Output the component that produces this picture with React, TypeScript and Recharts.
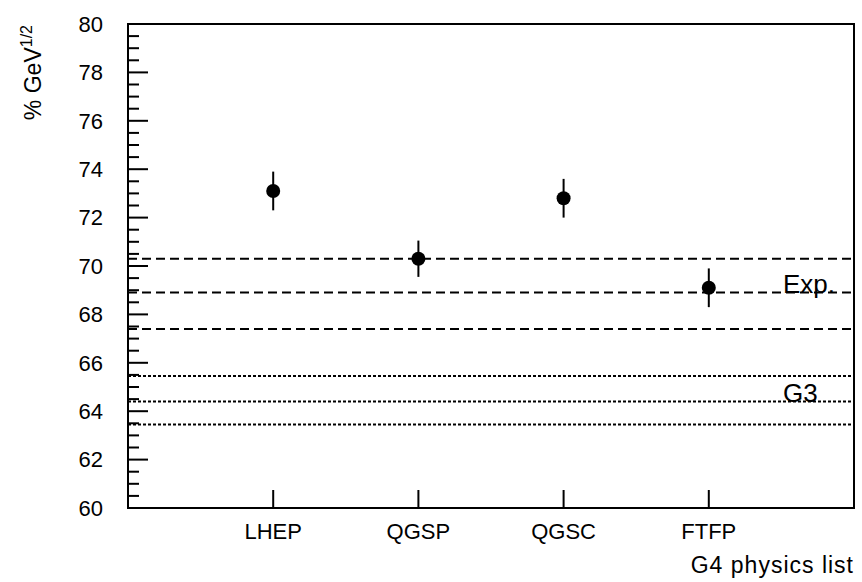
import {
  ErrorBar,
  Label,
  ReferenceArea,
  ReferenceLine,
  Scatter,
  ScatterChart,
  XAxis,
  YAxis,
} from "recharts";

const lists = ["LHEP", "QGSP", "QGSC", "FTFP"];
const resolution = [73.1, 70.3, 72.8, 69.1];
const errors = [0.8, 0.75, 0.8, 0.8];

// experimental band (central value ± error) and G3 band
const expLines = [70.3, 68.9, 67.4];
const g3Lines = [65.45, 64.4, 63.45];

const xTicks = [1, 2, 3, 4];
const yMajor = [60, 62, 64, 66, 68, 70, 72, 74, 76, 78, 80];
const yTicks = Array.from({ length: 41 }, (_, i) => 60 + i * 0.5);

const data = lists.map((name, i) => ({ x: i + 1, y: resolution[i], err: errors[i], name }));

const font = "'Liberation Sans', Arial, sans-serif";

function YTick({ x, y, payload }: any) {
  const major = yMajor.includes(payload.value);
  return (
    <g>
      <line x1={x} x2={x + (major ? 20 : 11)} y1={y} y2={y} stroke="#000" strokeWidth={2} />
      {major && (
        <text x={x - 25} y={y} dy="0.35em" textAnchor="end" fontSize={22} fontFamily={font} fill="#000">
          {payload.value}
        </text>
      )}
    </g>
  );
}

function XTick({ x, y, payload }: any) {
  return (
    <g>
      <line x1={x} x2={x} y1={y} y2={y - 18} stroke="#000" strokeWidth={2} />
      <text x={x} y={y + 23} dy="0.35em" textAnchor="middle" fontSize={22} fontFamily={font} fill="#000">
        {lists[payload.value - 1]}
      </text>
    </g>
  );
}

function Dot({ cx, cy }: any) {
  return <circle cx={cx} cy={cy} r={7} fill="#000" />;
}

function bandLabel(text: string) {
  return ({ viewBox }: any) => (
    <text
      x={viewBox.x + viewBox.width - 71}
      y={viewBox.y}
      fontSize={26}
      fontFamily={font}
      fill="#000"
    >
      {text}
    </text>
  );
}

export default function App() {
  return (
    <div style={{ position: "absolute", left: 0, top: 0, background: "#fff" }}>
      <ScatterChart width={862} height={582} margin={{ top: 24, right: 8, bottom: 14, left: 0 }}>
        <XAxis
          type="number"
          dataKey="x"
          domain={[0, 5]}
          ticks={xTicks}
          interval={0}
          height={60}
          tickSize={0}
          tickMargin={0}
          tickLine={false}
          axisLine={false}
          tick={<XTick />}
        >
          <Label
            content={({ viewBox }: any) => (
              <text
                x={viewBox.x + viewBox.width}
                y={viewBox.y + 65}
                textAnchor="end"
                fontSize={23}
                letterSpacing={1}
                fontFamily={font}
                fill="#000"
              >
                G4 physics list
              </text>
            )}
          />
        </XAxis>
        <YAxis
          type="number"
          dataKey="y"
          domain={[60, 80]}
          allowDataOverflow
          ticks={yTicks}
          interval={0}
          width={128}
          tickSize={0}
          tickMargin={0}
          tickLine={false}
          axisLine={false}
          tick={<YTick />}
        >
          <Label
            content={({ viewBox }: any) => (
              <text
                x={viewBox.x + 41}
                y={viewBox.y + 1}
                textAnchor="end"
                transform={`rotate(-90, ${viewBox.x + 41}, ${viewBox.y + 1})`}
                fontSize={23}
                fontFamily={font}
                fill="#000"
              >
                % GeV
                <tspan fontSize={16} dy={-9}>
                  1/2
                </tspan>
              </text>
            )}
          />
        </YAxis>
        <ReferenceArea x1={0} x2={5} y1={60} y2={80} fill="none" stroke="#000" strokeWidth={2} />
        {expLines.map((v, i) => (
          <ReferenceLine
            key={"e" + v}
            y={v}
            stroke="#000"
            strokeWidth={2}
            strokeDasharray="9 5"
            label={i === 1 ? bandLabel("Exp.") : undefined}
          />
        ))}
        {g3Lines.map((v, i) => (
          <ReferenceLine
            key={"g" + v}
            y={v}
            stroke="#000"
            strokeWidth={2}
            strokeDasharray="3 2"
            label={i === 1 ? bandLabel("G3") : undefined}
          />
        ))}
        <Scatter data={data} shape={<Dot />} isAnimationActive={false}>
          <ErrorBar dataKey="err" direction="y" width={0} stroke="#000" strokeWidth={2} />
        </Scatter>
      </ScatterChart>
    </div>
  );
}
